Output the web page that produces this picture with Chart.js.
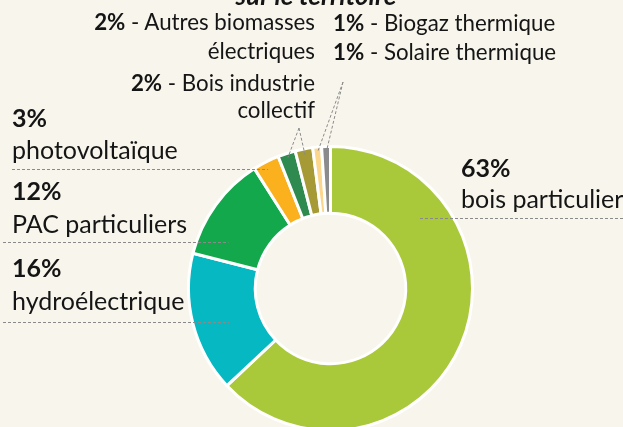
<!DOCTYPE html>
<html lang="fr">
<head>
<meta charset="utf-8">
<script src="https://cdn.jsdelivr.net/npm/chart.js@4.4.0/dist/chart.umd.min.js"></script>
<style>
  html, body { margin: 0; padding: 0; background: #f8f6ec; }
  #wrap { position: relative; width: 623px; height: 427px; overflow: hidden; background: #f8f6ec; font-family: Lato, "Open Sans", sans-serif; color: #151515; }
  #chartBox { position: absolute; left: 0; top: 0; width: 623px; height: 460px; }
  .lbl { position: absolute; white-space: nowrap; line-height: 1; }
  .lbl b { font-weight: 700; }
</style>
</head>
<body>
<div id="wrap">
  <div id="chartBox"><canvas id="myChart"></canvas></div>
</div>
<script>
// Data (clockwise from 12 o'clock)
const categories = [
    "bois particulier", "hydroélectrique", "PAC particuliers", "photovoltaïque",
    "Bois industrie collectif", "Autres biomasses électriques", "Solaire thermique", "Biogaz thermique"
];
const values = [63, 16, 12, 3, 2, 2, 1, 1];
const colors = ["#a9c93a", "#05b8c2", "#13a84b", "#fbb01d", "#2e8a4e", "#a69a36", "#fcd68c", "#8b8b8b"];

const titleText = "sur le territoire";

// Label text blocks: index into data, lines, anchor, font size
// big labels: percent on first line (bold), name on second line
const bigLabels = [
    { i: 3, x: 12, base: [127, 159] },
    { i: 2, x: 12, base: [200, 233] },
    { i: 1, x: 12, base: [277, 310] },
    { i: 0, x: 461, base: [177, 208] }
];
// small labels: "<b>p%</b> - name", possibly wrapped
const smallLabels = [
    { i: 5, x: 315, align: "right", lines: ["Autres biomasses", "électriques"], base: [31, 60] },
    { i: 4, x: 315, align: "right", lines: ["Bois industrie", "collectif"], base: [92, 119] },
    { i: 7, x: 333, align: "left", lines: ["Biogaz thermique"], base: [32] },
    { i: 6, x: 333, align: "left", lines: ["Solaire thermique"], base: [61] }
];

// Leader lines: horizontal ones (from label side to a point inside the ring)
// and slanted ones (from an anchor to the slice middle)
const leaders = [
    { i: 0, type: "h", y: 218, from: 623, r: 0.80 },
    { i: 1, type: "h", y: 322, from: 3, r: 0.75 },
    { i: 2, type: "h", y: 242, from: 3, r: 0.79 },
    { i: 3, type: "h", y: 169, from: 12, r: 0.95 },
    { i: 4, type: "s", ax: 299, ay: 128, r: 0.97 },
    { i: 5, type: "s", ax: 299, ay: 128, r: 0.96 },
    { i: 6, type: "s", ax: 343, ay: 82, r: 0.965 },
    { i: 7, type: "s", ax: 343, ay: 82, r: 0.96 }
];

const BIG = 25, SMALL = 22.3, TITLE = 26;
const wrap = document.getElementById("wrap");

function addLine(html, x, baseline, size, align, extra) {
    const d = document.createElement("div");
    d.className = "lbl";
    d.innerHTML = html;
    d.style.fontSize = size + "px";
    d.style.top = (baseline - 0.887 * size) + "px";
    if (align === "right") {
        d.style.right = (623 - x) + "px";
    } else if (align === "center") {
        d.style.left = x + "px";
        d.style.transform = "translateX(-50%)";
    } else {
        d.style.left = x + "px";
    }
    if (extra) Object.assign(d.style, extra);
    wrap.appendChild(d);
}

addLine(titleText, 316, 5, TITLE, "center", { fontWeight: "700", fontStyle: "italic" });

bigLabels.forEach(l => {
    addLine("<b>" + values[l.i] + "%</b>", l.x, l.base[0], BIG, "left");
    addLine(categories[l.i], l.x, l.base[1], BIG, "left");
});

smallLabels.forEach(l => {
    l.lines.forEach((t, k) => {
        const html = k === 0 ? "<b>" + values[l.i] + "%</b> - " + t : t;
        addLine(html, l.x, l.base[k], SMALL, l.align);
    });
});

// plugin drawing the dashed leader lines from the arc geometry
const leaderPlugin = {
    id: "leaders",
    afterDatasetsDraw(chart) {
        const arcs = chart.getDatasetMeta(0).data;
        const ctx = chart.ctx;
        ctx.save();
        ctx.strokeStyle = "#8a8a8a";
        ctx.lineWidth = 1;
        ctx.setLineDash([3, 2]);
        leaders.forEach(ld => {
            const a = arcs[ld.i];
            const cx = a.x, cy = a.y, R = a.outerRadius;
            ctx.beginPath();
            if (ld.type === "h") {
                const rr = ld.r * R;
                const dy = ld.y - cy;
                const dx = Math.sqrt(Math.max(rr * rr - dy * dy, 0));
                const ex = ld.from > cx ? cx + dx : cx - dx;
                ctx.moveTo(ld.from, ld.y + 0.5);
                ctx.lineTo(ex, ld.y + 0.5);
            } else {
                const mid = (a.startAngle + a.endAngle) / 2;
                const rr = ld.r * R;
                ctx.moveTo(ld.ax, ld.ay);
                ctx.lineTo(cx + Math.cos(mid) * rr, cy + Math.sin(mid) * rr);
            }
            ctx.stroke();
        });
        ctx.restore();
    }
};

const ctx = document.getElementById("myChart").getContext("2d");
new Chart(ctx, {
    type: "doughnut",
    data: {
        labels: categories,
        datasets: [{
            data: values,
            backgroundColor: colors,
            borderColor: "#ffffff",
            borderWidth: 3
        }]
    },
    options: {
        responsive: true,
        maintainAspectRatio: false,
        animation: false,
        cutout: "53%",
        layout: { padding: { left: 187, right: 149, top: 145, bottom: 28 } },
        plugins: {
            legend: { display: false },
            tooltip: { enabled: false }
        }
    },
    plugins: [leaderPlugin]
});
</script>
</body>
</html>
